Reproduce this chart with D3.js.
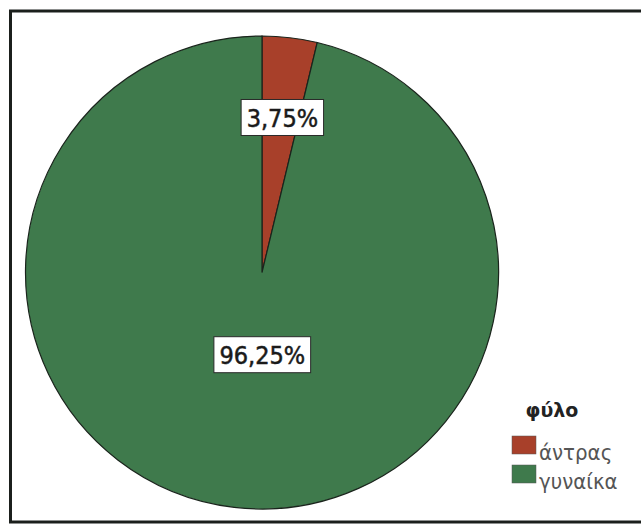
<!DOCTYPE html>
<html>
<head>
<meta charset="utf-8">
<script src="https://cdn.jsdelivr.net/npm/d3@7"></script>
<style>
  html, body { margin: 0; padding: 0; background: #fff; }
  svg { display: block; }
</style>
</head>
<body>
<svg id="chart" width="641" height="526"></svg>
<script>
// Gender breakdown (percent)
const categories = ["άντρας", "γυναίκα"];
const values = [3.75, 96.25];
const legendTitle = "φύλο";

const colors = ["#a8402a", "#3f7a4c"];
const fmt = v => d3.format(".2f")(v).replace(".", ",") + "%";
const narrow = "'DejaVu Sans Condensed', 'DejaVu Sans', Arial, sans-serif";

const svg = d3.select("#chart");

// outer frame (right edge runs past the window)
svg.append("rect")
  .attr("x", 10.5).attr("y", 11)
  .attr("width", 660).attr("height", 511)
  .attr("fill", "#fff")
  .attr("stroke", "#1b1f1c")
  .attr("stroke-width", 3);

const cx = 262, cy = 272.5, R = 236.5;

const pie = d3.pie().sort(null).value(d => d)
  .startAngle(0).endAngle(2 * Math.PI);
const arcs = pie(values);
const arc = d3.arc().innerRadius(0).outerRadius(R);

const g = svg.append("g").attr("transform", `translate(${cx},${cy})`);

g.selectAll("path.slice")
  .data(arcs)
  .enter().append("path")
  .attr("class", "slice")
  .attr("d", arc)
  .attr("fill", (d, i) => colors[i])
  .attr("stroke", "#1a241c")
  .attr("stroke-width", 1.2);

// value labels: radial distance as a fraction of the radius, plus a small x nudge
const labelRadius = [0.66, 0.35];
const labelNudge = [2, 10];
arcs.forEach((d, i) => {
  const a = (d.startAngle + d.endAngle) / 2;
  const r = R * labelRadius[i];
  const x = Math.sin(a) * r + labelNudge[i];
  const y = -Math.cos(a) * r;
  const lg = g.append("g").attr("transform", `translate(${x},${y})`);
  const t = lg.append("text")
    .attr("text-anchor", "middle")
    .attr("dy", "0.37em")
    .attr("font-family", narrow)
    .attr("font-size", 25)
    .attr("fill", "#1a1a1a")
    .attr("stroke", "#1a1a1a")
    .attr("stroke-width", 0.5)
    .text(fmt(d.data));
  const bb = t.node().getBBox();
  lg.insert("rect", "text")
    .attr("x", bb.x - 5.5).attr("y", -18)
    .attr("width", bb.width + 11).attr("height", 36)
    .attr("fill", "#fff")
    .attr("stroke", "#2a2a2a")
    .attr("stroke-width", 1);
});

// legend
const lgd = svg.append("g").attr("transform", "translate(512,0)");
lgd.append("text")
  .attr("x", 40).attr("y", 417)
  .attr("text-anchor", "middle")
  .attr("font-family", "'DejaVu Sans', Arial, sans-serif")
  .attr("font-weight", "bold")
  .attr("font-size", 19)
  .attr("fill", "#222")
  .text(legendTitle);

const items = lgd.selectAll("g.item")
  .data(categories)
  .enter().append("g")
  .attr("class", "item")
  .attr("transform", (d, i) => `translate(0,${436 + i * 29})`);
items.append("rect")
  .attr("width", 24).attr("height", 18)
  .attr("fill", (d, i) => colors[i])
  .attr("stroke", "#555").attr("stroke-width", 0.5);
items.append("text")
  .attr("x", 27).attr("y", 24)
  .attr("font-family", narrow)
  .attr("font-size", 22)
  .attr("fill", "#555")
  .text(d => d);
</script>
</body>
</html>
